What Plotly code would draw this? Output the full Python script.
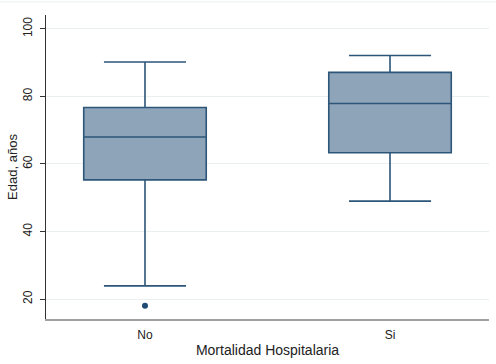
import plotly.graph_objects as go

categories = ["No", "Si"]
q1 = [55.3, 63.3]
median = [68.0, 77.9]
q3 = [76.7, 87.1]
lowerfence = [23.9, 49.0]
upperfence = [90.2, 92.1]
outlier_cat = ["No"]
outlier_val = [18.0]

fig = go.Figure()
fig.add_trace(go.Box(
    x=categories, q1=q1, median=median, q3=q3,
    lowerfence=lowerfence, upperfence=upperfence,
    boxpoints=False, width=0.5, whiskerwidth=0.67,
    fillcolor="#8ea4b9", line=dict(color="#2d5679", width=1.6),
    showlegend=False,
))
fig.add_trace(go.Scatter(
    x=outlier_cat, y=outlier_val, mode="markers",
    marker=dict(color="#1f4a73", size=6), showlegend=False,
))
fig.update_layout(
    width=496, height=364,
    margin=dict(l=46, r=7, t=15, b=45),
    paper_bgcolor="white", plot_bgcolor="white",
    font=dict(family="Liberation Sans, Arial, sans-serif", color="#222"),
)
fig.update_xaxes(
    type="category", range=[-0.404, 1.404], automargin=False,
    showline=True, linecolor="#a0a0a0", linewidth=2,
    showgrid=False, ticks="", tickfont=dict(size=12), ticklabelstandoff=4,
    title=dict(text="Mortalidad Hospitalaria", font=dict(size=14), standoff=4),
)
fig.update_yaxes(
    range=[14.1, 104.1], tickvals=[20, 40, 60, 80, 100], automargin=False,
    showline=True, linecolor="#333", linewidth=1,
    showgrid=True, gridcolor="#eaf0f2", gridwidth=1,
    ticks="outside", ticklen=5, tickcolor="#333", ticklabelstandoff=3,
    tickangle=-90, tickfont=dict(size=12), zeroline=False,
)
fig.add_annotation(text="Edad, años", xref="paper", yref="paper", x=-0.077, y=0.5,
                   xanchor="center", yanchor="middle", textangle=-90, showarrow=False,
                   borderpad=0, font=dict(size=13, color="#222"))
fig.add_shape(type="line", xref="paper", yref="paper", x0=-0.2, x1=1.02, y0=1.043, y1=1.043,
              line=dict(color="#eaf0f2", width=1))
fig.write_html("out.html", config={"displayModeBar": False},
               post_script="document.body.style.margin='0';document.body.style.padding='0';")
